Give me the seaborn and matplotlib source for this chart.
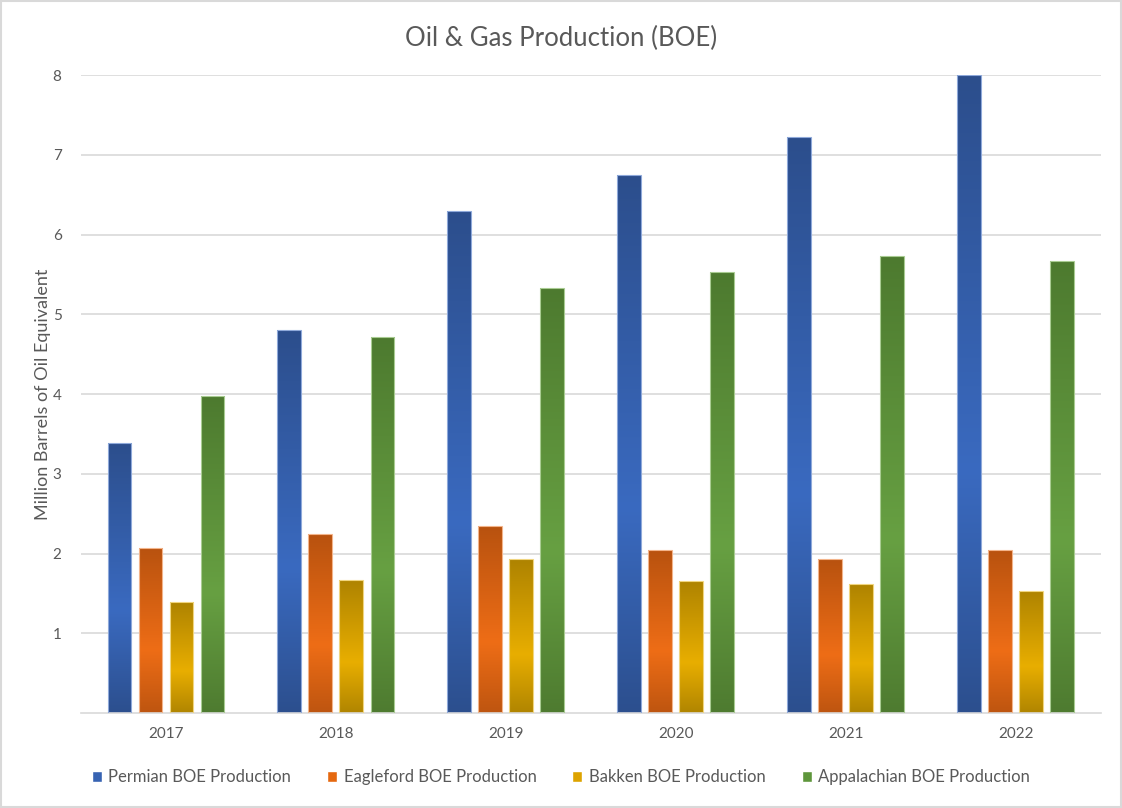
import numpy as np
import pandas as pd
import matplotlib
matplotlib.use("Agg")
import matplotlib.pyplot as plt
import seaborn as sns
from matplotlib.colors import LinearSegmentedColormap
from matplotlib.patches import Rectangle

years = ["2017", "2018", "2019", "2020", "2021", "2022"]
series_names = ["Permian BOE Production", "Eagleford BOE Production",
                "Bakken BOE Production", "Appalachian BOE Production"]
permian = [3.39, 4.80, 6.29, 6.75, 7.22, 8.00]
eagleford = [2.07, 2.24, 2.34, 2.05, 1.93, 2.05]
bakken = [1.39, 1.67, 1.93, 1.66, 1.62, 1.53]
appalachian = [3.97, 4.71, 5.33, 5.53, 5.73, 5.67]
yticks = [1, 2, 3, 4, 5, 6, 7, 8]

base_colors = ["#3763B2", "#E5680F", "#DDA300", "#5E963B"]
# (top, middle, bottom) gradient colours
grads = [("#2C4E8C", "#3A6AC0", "#2C4F8E"),
         ("#B8520F", "#EE6D16", "#BE5510"),
         ("#AE8300", "#E8AE00", "#B08500"),
         ("#4D7A2F", "#67A042", "#4E7B30")]
edge_colors = ["#8FA9DA", "#F3B48A", "#F0D57F", "#A9CC92"]

df = pd.DataFrame({
    "Year": years * 4,
    "Series": sum([[s] * len(years) for s in series_names], []),
    "Value": permian + eagleford + bakken + appalachian,
})

sns.set_theme(style="white")
plt.rcParams["font.family"] = ["Lato", "DejaVu Sans"]

fig = plt.figure(figsize=(11.22, 8.08), dpi=100)
ax = fig.add_axes([0.0722, 0.1176, 0.9088, 0.7895])

sns.barplot(data=df, x="Year", y="Value", hue="Series", hue_order=series_names,
            palette=base_colors, width=0.73, gap=0.23, legend=False, ax=ax,
            saturation=1, errorbar=None)

xlim = (-0.5, 5.5)
ylim = (0, 8)

for container, (ctop, cmid, cbot), ec in zip(ax.containers, grads, edge_colors):
    cmap = LinearSegmentedColormap.from_list("g", [(0, cbot), (0.38, cmid), (1, ctop)])
    for bar in container:
        x, y = bar.get_x(), bar.get_y()
        w, h = bar.get_width(), bar.get_height()
        grad = np.linspace(0, 1, 256).reshape(-1, 1)
        im = ax.imshow(grad, extent=[x, x + w, y, y + h], origin="lower",
                       cmap=cmap, aspect="auto", zorder=2, interpolation="bilinear")
        im.set_clip_path(bar)
        bar.set_facecolor("none")
        bar.set_edgecolor(ec)
        bar.set_linewidth(0.8)
        bar.set_zorder(3)

ax.set_xlim(*xlim)
ax.set_ylim(*ylim)
ax.set_yticks(yticks)
ax.set_yticklabels([str(t) for t in yticks])
ax.yaxis.grid(True, color="#D9D9D9", linewidth=1.2)
ax.set_axisbelow(True)
for s in ["top", "right", "left"]:
    ax.spines[s].set_visible(False)
ax.spines["bottom"].set_color("#D9D9D9")
ax.spines["bottom"].set_linewidth(1.2)
ax.tick_params(axis="both", length=0, colors="#595959", labelsize=11)
ax.tick_params(axis="y", pad=14)
ax.tick_params(axis="x", pad=10)
ax.set_xlabel("")
ax.set_ylabel("Million Barrels of Oil Equivalent", fontsize=13, color="#595959", labelpad=1)

fig.text(0.5, 0.953, "Oil & Gas Production (BOE)", ha="center", va="center",
         fontsize=18.5, color="#595959")

handles = [Rectangle((0, 0), 1, 1, facecolor=c) for c in base_colors]
fig.legend(handles, series_names, loc="center", bbox_to_anchor=(0.5, 0.038), ncol=4,
           frameon=False, fontsize=12, handlelength=0.6, handleheight=0.6,
           handletextpad=0.4, columnspacing=2.15, labelcolor="#595959")

fig.patches.append(Rectangle((0.001, 0.001), 0.998, 0.998, transform=fig.transFigure,
                             fill=False, edgecolor="#D9D9D9", linewidth=1.5))

fig.savefig("out.png", dpi=100)
